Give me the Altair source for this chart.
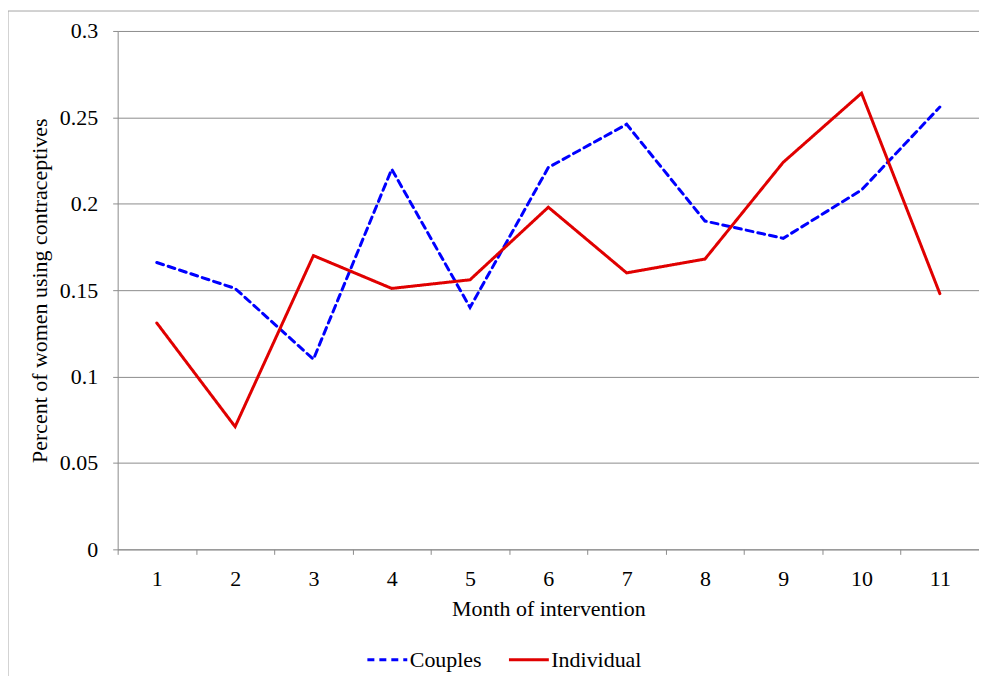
import altair as alt
import pandas as pd

months = [str(m) for m in range(1, 12)]
couples = [0.166, 0.151, 0.110, 0.220, 0.140, 0.221, 0.246, 0.190, 0.180, 0.208, 0.256]
individual = [0.131, 0.071, 0.170, 0.151, 0.156, 0.198, 0.160, 0.168, 0.224, 0.264, 0.148]
series_names = ["Couples", "Individual"]
y_ticks = [0, 0.05, 0.1, 0.15, 0.2, 0.25, 0.3]

rows = []
for m, c, i in zip(months, couples, individual):
    rows.append({"month": m, "group": "Couples", "value": c})
    rows.append({"month": m, "group": "Individual", "value": i})
df = pd.DataFrame(rows)

FONT = "Liberation Serif"
GRID = "#8c8c8c"
FS = 22

lines = alt.Chart(df).mark_line(strokeWidth=3, strokeCap="round").encode(
    x=alt.X("month:O", sort=months, bandPosition=0.5,
            scale=alt.Scale(type="band", paddingInner=0, paddingOuter=0),
            axis=alt.Axis(title="Month of intervention", labelAngle=0, tickBand="extent",
                          grid=False, domainColor=GRID, tickColor=GRID, tickSize=5,
                          labelPadding=14, titlePadding=9)),
    y=alt.Y("value:Q", scale=alt.Scale(domain=[0, 0.3], nice=False),
            axis=alt.Axis(title="Percent of women using contraceptives", values=y_ticks,
                          format="~g", gridColor=GRID, domainColor=GRID, tickColor=GRID,
                          tickSize=5, labelPadding=15, titlePadding=8)),
    color=alt.Color("group:N", sort=series_names,
                    scale=alt.Scale(domain=series_names, range=["#0000ff", "#e00000"]),
                    legend=alt.Legend(title=None, orient="none", direction="horizontal",
                                      legendX=249, legendY=609, symbolType="stroke",
                                      symbolSize=1600, symbolStrokeWidth=3,
                                      labelFontSize=FS, labelFont=FONT, labelColor="black",
                                      columnPadding=20, labelOffset=1)),
    strokeDash=alt.StrokeDash("group:N", sort=series_names,
                              scale=alt.Scale(domain=series_names, range=[[7, 5], [1, 0]]),
                              legend=None),
)

frame = alt.Chart(pd.DataFrame({"f": [0]})).mark_rect(
    fill=None, stroke="#a6a6a6", strokeWidth=1
).encode(x=alt.value(-110), x2=alt.value(880), y=alt.value(-20), y2=alt.value(680))

chart = alt.layer(frame, lines).properties(
    width=864, height=520,
    autosize=alt.AutoSizeParams(type="none"),
    padding={"left": 110, "top": 22, "right": 0, "bottom": 126},
).configure_view(stroke=None).configure_axis(
    labelFont=FONT, titleFont=FONT, labelFontSize=FS, titleFontSize=FS,
    labelColor="black", titleColor="black", titleFontWeight="normal",
).configure_legend(symbolStrokeColor=None)

chart.save("out.html", embed_options={"renderer": "svg", "actions": False})
